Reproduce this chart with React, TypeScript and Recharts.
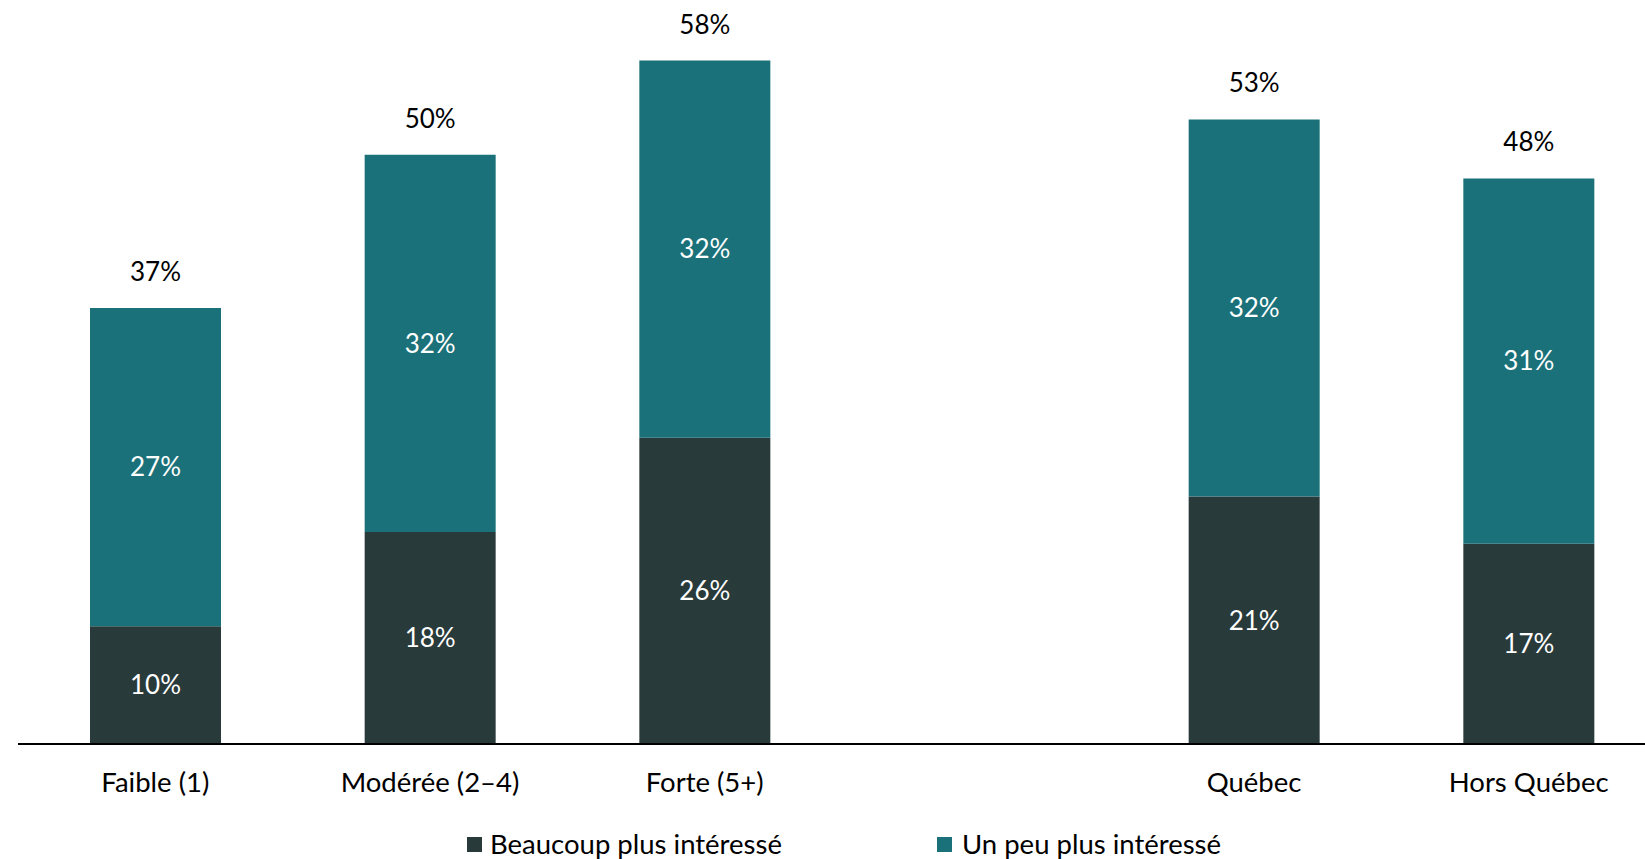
import React from 'react'
import { BarChart, Bar, XAxis, YAxis, LabelList } from 'recharts'

const categories = ['Faible (1)', 'Modérée (2–4)', 'Forte (5+)', '', 'Québec', 'Hors Québec']
const beaucoup = [10, 18, 26, null, 21, 17]
const unPeu = [27, 32, 32, null, 32, 31]
const totals = [37, 50, 58, null, 53, 48]

const DARK = '#293a3a'
const TEAL = '#1a7179'
const FONT = 'Lato, "Open Sans", sans-serif'

const data = categories.map((name, i) => ({
  name,
  beaucoup: beaucoup[i],
  unPeu: unPeu[i],
  total: totals[i],
}))

const pct = (v: any) => (v == null ? '' : `${v}%`)

const TotalLabel = (props: any) => {
  const { x, y, width, value } = props
  if (value == null) return null
  return (
    <text x={x + width / 2} y={y - 37} textAnchor="middle" dominantBaseline="central" fill="#000" fontSize={26} fontFamily={FONT}>
      {value}%
    </text>
  )
}

const CategoryTick = ({ x, y, payload }: any) => (
  <text x={x} y={y + 37} textAnchor="middle" dominantBaseline="central" fill="#000" fontSize={27.5} fontFamily={FONT}>
    {payload.value}
  </text>
)

export default function App() {
  return (
    <div style={{ position: 'fixed', left: 0, top: 0, width: 1645, height: 859, overflow: 'hidden', background: '#fff' }}>
      <BarChart
        width={1700}
        height={859}
        data={data}
        margin={{ top: 37, right: 34, bottom: 85, left: 18 }}
        barCategoryGap={0}
        style={{ fontFamily: FONT }}
      >
        <XAxis
          dataKey="name"
          height={30}
          tickLine={false}
          tickSize={0}
          tickMargin={0}
          axisLine={{ stroke: '#000', strokeWidth: 2 }}
          tick={<CategoryTick />}
          interval={0}
        />
        <YAxis hide domain={[0, 60]} allowDataOverflow />
        <Bar dataKey="beaucoup" stackId="a" fill={DARK} barSize={131} isAnimationActive={false}>
          <LabelList dataKey="beaucoup" position="center" fill="#fff" fontSize={26} fontFamily={FONT} formatter={pct} />
        </Bar>
        <Bar dataKey="unPeu" stackId="a" fill={TEAL} barSize={131} isAnimationActive={false}>
          <LabelList dataKey="unPeu" position="center" fill="#fff" fontSize={26} fontFamily={FONT} formatter={pct} />
          <LabelList dataKey="total" content={<TotalLabel />} />
        </Bar>
      </BarChart>
      <div style={{ position: 'absolute', left: 0, top: 826, width: 1645, height: 36, fontFamily: FONT, fontSize: 27.5, color: '#000' }}>
        <span style={{ position: 'absolute', left: 467, top: 11, width: 15, height: 15, background: DARK }} />
        <span style={{ position: 'absolute', left: 490, top: 0, lineHeight: '36px', whiteSpace: 'nowrap' }}>Beaucoup plus intéressé</span>
        <span style={{ position: 'absolute', left: 937, top: 11, width: 15, height: 15, background: TEAL }} />
        <span style={{ position: 'absolute', left: 962, top: 0, lineHeight: '36px', whiteSpace: 'nowrap' }}>Un peu plus intéressé</span>
      </div>
    </div>
  )
}
